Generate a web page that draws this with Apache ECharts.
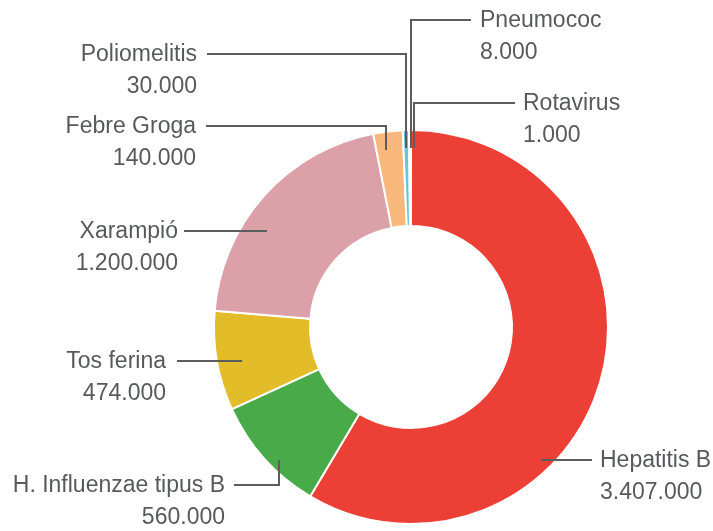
<!DOCTYPE html>
<html>
<head>
<meta charset="utf-8">
<script src="https://cdn.jsdelivr.net/npm/echarts@6/dist/echarts.min.js"></script>
<style>
    html, body { margin: 0; padding: 0; background: #fff; }
    #myChart { width: 713px; height: 531px; }
</style>
</head>
<body>
<div id="myChart"></div>
<script>
    // dades
    var names = ['Hepatitis B', 'H. Influenzae tipus B', 'Tos ferina', 'Xarampió',
                 'Febre Groga', 'Poliomelitis', 'Pneumococ', 'Rotavirus'];
    var values = [3407000, 560000, 474000, 1200000, 140000, 30000, 8000, 1000];
    var colors = ['#ec4036', '#48aa49', '#e3bc2a', '#dca0a8',
                  '#f8b87c', '#63c6db', '#9fd3e3', '#2f78b4'];

    // posicio de cada etiqueta i del seu tracat (x, y de la linia, costat)
    var labelPos = [
        { x: 600, y: 460, side: 'left',  line: [[592, 460], [541, 460]] },
        { x: 225, y: 485, side: 'right', line: [[234, 485], [279, 485], [279, 460]] },
        { x: 166, y: 361, side: 'right', line: [[177, 361], [242, 361]] },
        { x: 178, y: 231, side: 'right', line: [[184, 231], [267, 231]] },
        { x: 196, y: 126, side: 'right', line: [[206, 126], [386, 126], [386, 150]] },
        { x: 197, y: 54,  side: 'right', line: [[207, 54], [406, 54], [406, 148]] },
        { x: 480, y: 20,  side: 'left',  line: [[471, 20], [411, 20], [411, 148]] },
        { x: 523, y: 103, side: 'left',  line: [[515, 103], [414, 103], [414, 148]] }
    ];

    function fmt (v) {
        return String(v).replace(/\B(?=(\d{3})+(?!\d))/g, '.');
    }

    var data = [];
    var labelData = [];
    for (var i = 0; i < names.length; i++) {
        data.push({ name: names[i], value: values[i], itemStyle: { color: colors[i] } });
        labelData.push({ name: names[i], value: values[i] });
    }

    var myChart = echarts.init(document.getElementById('myChart'));
    myChart.setOption({
        animation: false,
        backgroundColor: '#fff',
        series: [{
            // sectors
            type: 'pie',
            z: 2,
            center: [411, 327],
            radius: [101, 197],
            startAngle: 90,
            clockwise: true,
            emphasis: { disabled: true },
            itemStyle: {
                borderColor: '#fff',
                borderWidth: 2
            },
            label: { show: false },
            labelLine: { show: false },
            data: data
        }, {
            // etiquetes i linies per sobre dels sectors
            type: 'pie',
            z: 5,
            silent: true,
            center: [411, 327],
            radius: [101, 197],
            startAngle: 90,
            clockwise: true,
            avoidLabelOverlap: false,
            emphasis: { disabled: true },
            itemStyle: {
                color: 'transparent',
                borderWidth: 0
            },
            label: {
                show: true,
                position: 'outside',
                formatter: function (p) {
                    return '{n|' + p.name + '}\n{v|' + fmt(p.value) + '}';
                },
                rich: {
                    n: { fontFamily: 'Liberation Sans', fontSize: 23, color: '#58595b', lineHeight: 32 },
                    v: { fontFamily: 'Liberation Sans', fontSize: 23, color: '#58595b', lineHeight: 32 }
                }
            },
            labelLine: {
                show: true,
                lineStyle: { color: '#5b5c5e', width: 2 }
            },
            labelLayout: function (params) {
                var lp = labelPos[params.dataIndex];
                return {
                    x: lp.x,
                    y: lp.y - 15,
                    align: lp.side === 'right' ? 'right' : 'left',
                    verticalAlign: 'top',
                    labelLinePoints: lp.line
                };
            },
            data: labelData
        }]
    });
</script>
</body>
</html>
